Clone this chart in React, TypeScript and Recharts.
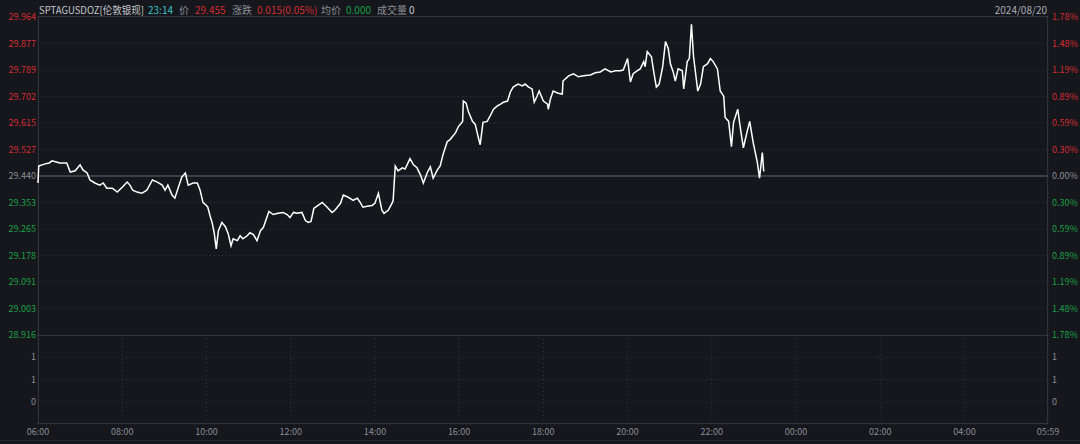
import React from 'react';
import { LineChart, Line, XAxis, YAxis, CartesianGrid, ReferenceLine } from 'recharts';

const BASE = 29.44;

const times = [
  0, 1, 10, 16, 20, 31, 41, 46, 53, 60, 64, 70, 74, 81, 88, 93, 98, 106, 113, 120,
  127, 131, 135, 141, 148, 155, 163, 170, 177, 181, 185, 191, 195, 200, 205, 210, 214, 221, 227, 231,
  235, 240, 242, 245, 248, 251, 254, 257, 262, 267, 271, 275, 278, 284, 288, 292, 298, 302, 307, 312,
  317, 321, 326, 329, 335, 342, 349, 355, 359, 364, 369, 376, 381, 385, 389, 393, 399, 405, 412, 419,
  423, 431, 435, 442, 449, 455, 459, 463, 469, 476, 480, 485, 490, 493, 499, 505, 506, 509, 513, 519,
  523, 530, 535, 540, 545, 549, 555, 559, 563, 569, 573, 577, 583, 587, 595, 599, 605, 606, 610, 613,
  619, 623, 627, 630, 634, 640, 644, 649, 654, 659, 663, 669, 673, 677, 684, 690, 694, 699, 704, 707,
  711, 714, 720, 726, 727, 730, 734, 741, 747, 748, 756, 763, 770, 777, 787, 794, 801, 808, 816, 823,
  830, 834, 840, 844, 848, 854, 858, 863, 865, 868, 874, 877, 881, 885, 890, 894, 898, 901, 905, 908,
  912, 918, 920, 925, 928, 931, 934, 937, 940, 944, 948, 954, 958, 962, 968, 972, 977, 979, 984, 988,
  991, 997, 1001, 1005, 1011, 1014, 1019, 1025, 1028, 1032, 1034,
];

const prices = [
  29.417, 29.473, 29.48, 29.483, 29.49, 29.483, 29.483, 29.453, 29.457, 29.477, 29.46, 29.45, 29.427, 29.417, 29.41, 29.417, 29.4, 29.4, 29.387, 29.403,
  29.42, 29.41, 29.393, 29.387, 29.383, 29.393, 29.427, 29.42, 29.41, 29.393, 29.41, 29.377, 29.367, 29.403, 29.437, 29.45, 29.41, 29.417, 29.417, 29.393,
  29.353, 29.343, 29.337, 29.31, 29.287, 29.253, 29.2, 29.26, 29.287, 29.273, 29.25, 29.21, 29.233, 29.227, 29.243, 29.233, 29.243, 29.253, 29.247, 29.227,
  29.26, 29.27, 29.303, 29.323, 29.313, 29.317, 29.32, 29.313, 29.303, 29.32, 29.317, 29.32, 29.293, 29.287, 29.29, 29.333, 29.343, 29.353, 29.337, 29.32,
  29.327, 29.35, 29.377, 29.37, 29.36, 29.367, 29.353, 29.337, 29.34, 29.343, 29.35, 29.383, 29.327, 29.317, 29.327, 29.353, 29.36, 29.473, 29.457, 29.467,
  29.463, 29.497, 29.477, 29.467, 29.443, 29.417, 29.453, 29.47, 29.433, 29.46, 29.473, 29.51, 29.553, 29.56, 29.583, 29.603, 29.62, 29.687, 29.68, 29.653,
  29.62, 29.61, 29.57, 29.543, 29.617, 29.62, 29.637, 29.66, 29.67, 29.677, 29.683, 29.687, 29.717, 29.733, 29.743, 29.737, 29.743, 29.733, 29.727, 29.683,
  29.703, 29.72, 29.687, 29.677, 29.66, 29.693, 29.72, 29.713, 29.71, 29.753, 29.77, 29.777, 29.767, 29.77, 29.773, 29.78, 29.783, 29.793, 29.783, 29.787,
  29.787, 29.79, 29.827, 29.75, 29.777, 29.787, 29.793, 29.817, 29.8, 29.85, 29.833, 29.787, 29.733, 29.743, 29.8, 29.883, 29.86, 29.81, 29.783, 29.753,
  29.793, 29.787, 29.727, 29.817, 29.827, 29.94, 29.833, 29.777, 29.72, 29.743, 29.8, 29.81, 29.827, 29.817, 29.793, 29.72, 29.703, 29.633, 29.62, 29.537,
  29.617, 29.66, 29.593, 29.533, 29.593, 29.62, 29.55, 29.483, 29.433, 29.517, 29.455,
];

const priceTicks = [29.964, 29.877, 29.789, 29.702, 29.615, 29.527, 29.44, 29.353, 29.265, 29.178, 29.091, 29.003, 28.916];
const pctLabels = ['1.78%', '1.48%', '1.19%', '0.89%', '0.59%', '0.30%', '0.00%', '0.30%', '0.59%', '0.89%', '1.19%', '1.48%', '1.78%'];
const xTicks = [0, 120, 240, 360, 480, 600, 720, 840, 960, 1080, 1200, 1320, 1439];
const xLabels = ['06:00', '08:00', '10:00', '12:00', '14:00', '16:00', '18:00', '20:00', '22:00', '00:00', '02:00', '04:00', '05:59'];
const volTicks = [0, 0.5, 1];
const volLabels = ['0', '1', '1'];

const data = times.map((t, i) => ({ t, price: prices[i] }));

const BG = '#15171c';
const RED = '#d42b33';
const GREEN = '#1c9f47';
const GRAY = '#8a8e96';
const GRID = '#363941';
const BORDER = '#30333a';
const FONT = '"Noto Sans CJK SC", "Noto Sans", sans-serif';

const colorFor = (v: number) => (v > BASE + 1e-6 ? RED : v < BASE - 1e-6 ? GREEN : GRAY);

const LeftTick = (props: any) => {
  const { y, payload } = props;
  const v = payload.value as number;
  return (
    <text x={36} y={y} dy="0.35em" textAnchor="end" fill={colorFor(v)} fontSize={9} fontFamily={FONT}>
      {v.toFixed(3)}
    </text>
  );
};

const RightTick = (props: any) => {
  const { y, payload } = props;
  const v = payload.value as number;
  const idx = priceTicks.indexOf(v);
  return (
    <text x={1052} y={y} dy="0.35em" textAnchor="start" fill={colorFor(v)} fontSize={9} fontFamily={FONT}>
      {pctLabels[idx]}
    </text>
  );
};

const VolLeftTick = (props: any) => {
  const { y, payload } = props;
  const idx = volTicks.indexOf(payload.value);
  return (
    <text x={36} y={y} dy="0.35em" textAnchor="end" fill={GRAY} fontSize={9} fontFamily={FONT}>
      {volLabels[idx]}
    </text>
  );
};

const VolRightTick = (props: any) => {
  const { y, payload } = props;
  const idx = volTicks.indexOf(payload.value);
  return (
    <text x={1052} y={y} dy="0.35em" textAnchor="start" fill={GRAY} fontSize={9} fontFamily={FONT}>
      {volLabels[idx]}
    </text>
  );
};

const XTick = (props: any) => {
  const { x, payload } = props;
  const idx = xTicks.indexOf(payload.value);
  return (
    <text x={x} y={97} dy="0.35em" textAnchor="middle" fill={GRAY} fontSize={9} fontFamily={FONT}>
      {xLabels[idx]}
    </text>
  );
};

const Header = () => (
  <svg width={1080} height={16} style={{ position: 'absolute', left: 0, top: 0 }}>
    <g fontFamily={FONT} fontSize={10}>
      <text x={39} y={14} fill="#c5c8ce" textLength={105} lengthAdjust="spacingAndGlyphs">SPTAGUSDOZ[伦敦银现]</text>
      <text x={148} y={14} fill="#3cc3c6">23:14</text>
      <text x={179} y={14} fill={GRAY}>价</text>
      <text x={195} y={14} fill={RED}>29.455</text>
      <text x={232} y={14} fill={GRAY}>涨跌</text>
      <text x={257} y={14} fill={RED}>0.015(0.05%)</text>
      <text x={321} y={14} fill={GRAY}>均价</text>
      <text x={346} y={14} fill={GREEN}>0.000</text>
      <text x={377} y={14} fill={GRAY}>成交量</text>
      <text x={409} y={14} fill="#c5c8ce">0</text>
      <text x={1047} y={14} fill="#a9adb4" textAnchor="end">2024/08/20</text>
    </g>
  </svg>
);

export default function App() {
  return (
    <div style={{ position: 'fixed', left: 0, top: 0, width: 1080, height: 444, background: BG, overflow: 'hidden' }}>
      <Header />
      <div style={{ position: 'absolute', left: 0, top: 335 }}>
        <LineChart width={1080} height={109} data={data} margin={{ top: 0, right: 0, bottom: 0, left: 0 }}>
          <CartesianGrid yAxisId="v" stroke={GRID} strokeDasharray="1 3" />
          <XAxis dataKey="t" type="number" domain={[0, 1439]} ticks={xTicks} height={20} axisLine={false} tickLine={false} tick={XTick} interval={0} />
          <YAxis yAxisId="v" domain={[-0.5, 1.5]} ticks={volTicks} interval={0} width={38} axisLine={false} tickLine={false} tick={VolLeftTick} allowDataOverflow />
          <YAxis yAxisId="vr" orientation="right" domain={[-0.5, 1.5]} ticks={volTicks} interval={0} width={32} axisLine={false} tickLine={false} tick={VolRightTick} allowDataOverflow />
          <Line yAxisId="v" dataKey="price" stroke="none" dot={false} isAnimationActive={false} />
          <Line yAxisId="vr" dataKey="price" stroke="none" dot={false} isAnimationActive={false} />
        </LineChart>
      </div>
      <div style={{ position: 'absolute', left: 38, top: 16, width: 1010, height: 408, border: `1px solid ${BORDER}`, boxSizing: 'border-box', pointerEvents: 'none' }} />
      <div style={{ position: 'absolute', left: 38, top: 335, width: 1010, height: 1, background: BORDER, pointerEvents: 'none' }} />
      <div style={{ position: 'absolute', left: 0, top: 440, width: 1080, height: 1, background: '#25282e', pointerEvents: 'none' }} />
      <div style={{ position: 'absolute', left: 0, top: 0 }}>
        <LineChart width={1080} height={346} data={data} margin={{ top: 17, right: 0, bottom: 11, left: 0 }}>
          <CartesianGrid yAxisId="left" stroke={GRID} strokeDasharray="1 3" />
          <XAxis dataKey="t" type="number" domain={[0, 1439]} ticks={xTicks} height={0} tick={false} axisLine={false} tickLine={false} />
          <YAxis yAxisId="left" domain={[28.916, 29.964]} ticks={priceTicks} interval={0} width={38} axisLine={false} tickLine={false} tick={LeftTick} allowDataOverflow />
          <YAxis yAxisId="right" orientation="right" domain={[28.916, 29.964]} ticks={priceTicks} interval={0} width={32} axisLine={false} tickLine={false} tick={RightTick} allowDataOverflow />
          <ReferenceLine yAxisId="left" y={BASE} stroke="#3c3f46" strokeWidth={2} />
          <Line yAxisId="left" type="linear" dataKey="price" stroke="#ffffff" strokeWidth={1.5} dot={false} isAnimationActive={false} />
          <Line yAxisId="right" type="linear" dataKey="price" stroke="none" dot={false} isAnimationActive={false} />
        </LineChart>
      </div>
    </div>
  );
}
